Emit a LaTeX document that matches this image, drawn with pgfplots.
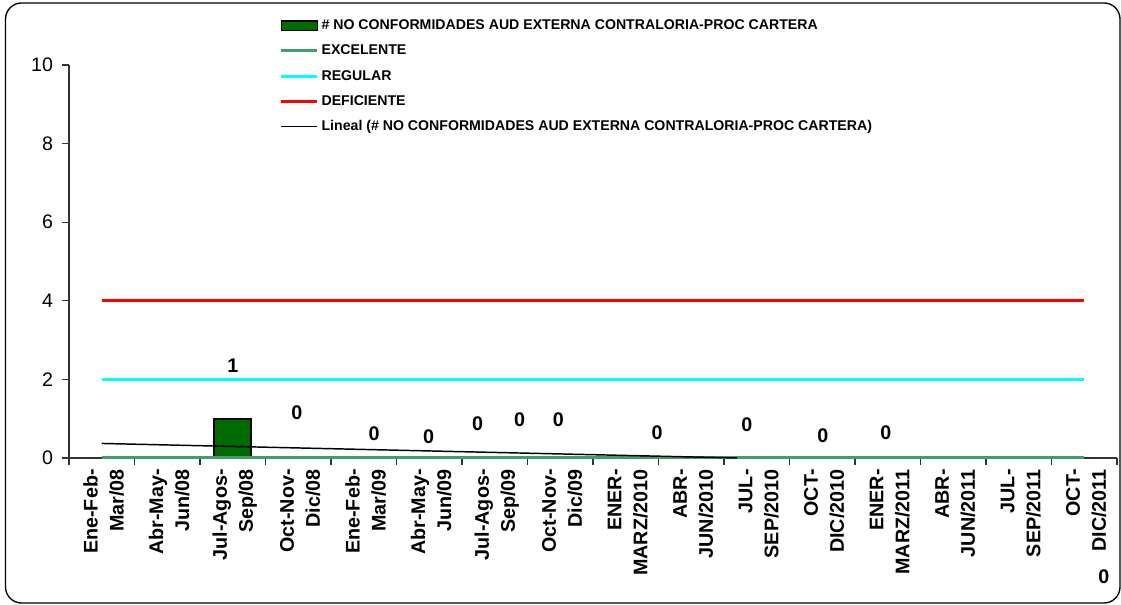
\documentclass[border=0pt]{standalone}
\usepackage{fontspec}
\setmainfont{Liberation Sans}
\usepackage{pgfplots}
\pgfplotsset{compat=1.18}

\definecolor{barfill}{RGB}{0,108,0}
\definecolor{excelente}{RGB}{60,160,110}
\definecolor{regular}{RGB}{0,255,255}
\definecolor{deficiente}{RGB}{255,0,0}

\pgfplotsset{
  linelegend/.style={legend image code/.code={\draw[##1] (0pt,0pt) -- (27pt,0pt);}},
  barlegend/.style={legend image code/.code={\draw[fill=barfill, draw=black, line width=1pt]
      (0pt,-3.5pt) rectangle (27pt,3.5pt);}},
}

\begin{document}
\begin{tikzpicture}
\useasboundingbox (-51.75pt,-110.25pt) rectangle (789pt,343.5pt);
\begin{axis}[
    scale only axis,
    width=786pt, height=294.75pt,
    xmin=-0.5, xmax=15.5,
    ymin=0, ymax=10,
    clip=false,
    axis x line*=bottom,
    axis y line*=left,
    axis line style={line width=0.8pt, black!80},
    tick align=outside,
    major tick length=5pt,
    minor tick length=5pt,
    xtick={0,...,15},
    major x tick style={draw=none},
    minor xtick={-0.5,0.5,...,15.5},
    minor x tick style={draw=black!80, line width=0.8pt},
    xticklabels={
      {Ene-Feb-\\Mar/08},{Abr-May-\\Jun/08},{Jul-Agos-\\Sep/08},{Oct-Nov-\\Dic/08},
      {Ene-Feb-\\Mar/09},{Abr-May-\\Jun/09},{Jul-Agos-\\Sep/09},{Oct-Nov-\\Dic/09},
      {ENER-\\MARZ/2010},{ABR-\\JUN/2010},{JUL-\\SEP/2010},{OCT-\\DIC/2010},
      {ENER-\\MARZ/2011},{ABR-\\JUN/2011},{JUL-\\SEP/2011},{OCT-\\DIC/2011}},
    xticklabel style={rotate=90, anchor=east, align=right, yshift=-1.5pt,
      font=\fontsize{14.8}{19.5}\selectfont\bfseries},
    ytick={0,2,...,10},
    y tick style={draw=black!80, line width=0.8pt},
    yticklabel style={font=\fontsize{14.7}{17}\selectfont, xshift=-3.5pt},
    /pgf/number format/assume math mode=true,
    legend style={at={(0.201,1.1224)}, anchor=north west, draw=none, fill=none,
      font=\fontsize{10.6}{12}\selectfont\bfseries, row sep=6pt,
      inner sep=0pt},
    legend cell align=left,
  ]
  % # no conformidades por trimestre
  \addplot[ybar, bar width=27.75pt, fill=barfill, draw=black, line width=1.5pt, barlegend]
    coordinates {(2,1) (3,0) (4,0) (5,0) (6,0) (7,0) (8,0) (9,0) (10,0) (11,0) (12,0)};
  \addlegendentry{\# NO CONFORMIDADES AUD EXTERNA CONTRALORIA-PROC CARTERA}

  \addplot[excelente, line width=2.25pt, linelegend]
    coordinates {(0,0) (15,0)};
  \addlegendentry{EXCELENTE}

  \addplot[regular, line width=2.25pt, linelegend]
    coordinates {(0,2) (15,2)};
  \addlegendentry{REGULAR}

  \addplot[deficiente, line width=2.25pt, linelegend]
    coordinates {(0,4) (15,4)};
  \addlegendentry{DEFICIENTE}

  % tendencia lineal
  \addplot[black, line width=1.1pt, linelegend]
    coordinates {(0,0.37) (9.7,0)};
  \addlegendentry{Lineal (\# NO CONFORMIDADES AUD EXTERNA CONTRALORIA-PROC CARTERA)}

  % etiquetas de datos (desplazadas como en el original)
  \addplot[forget plot, only marks, mark=*, mark size=0pt,
    mark options={draw=none, fill=none},
    nodes near coords, point meta=explicit symbolic,
    nodes near coords style={anchor=center, inner sep=0pt,
      font=\fontsize{14.8}{17}\selectfont\bfseries}]
    coordinates {
      (2,2.34) [1]
      (2.98,1.15) [0]
      (4.16,0.61) [0]
      (4.99,0.53) [0]
      (5.74,0.87) [0]
      (6.38,0.97) [0]
      (6.97,0.97) [0]
      (8.48,0.64) [0]
      (9.85,0.84) [0]
      (11.01,0.56) [0]
      (11.97,0.64) [0]
      (15.3,-3.03) [0]
    };
\end{axis}
\draw[rounded corners=12pt, line width=1pt] (-47.6pt,-108.75pt) rectangle (788.25pt,341.25pt);
\end{tikzpicture}
\end{document}
